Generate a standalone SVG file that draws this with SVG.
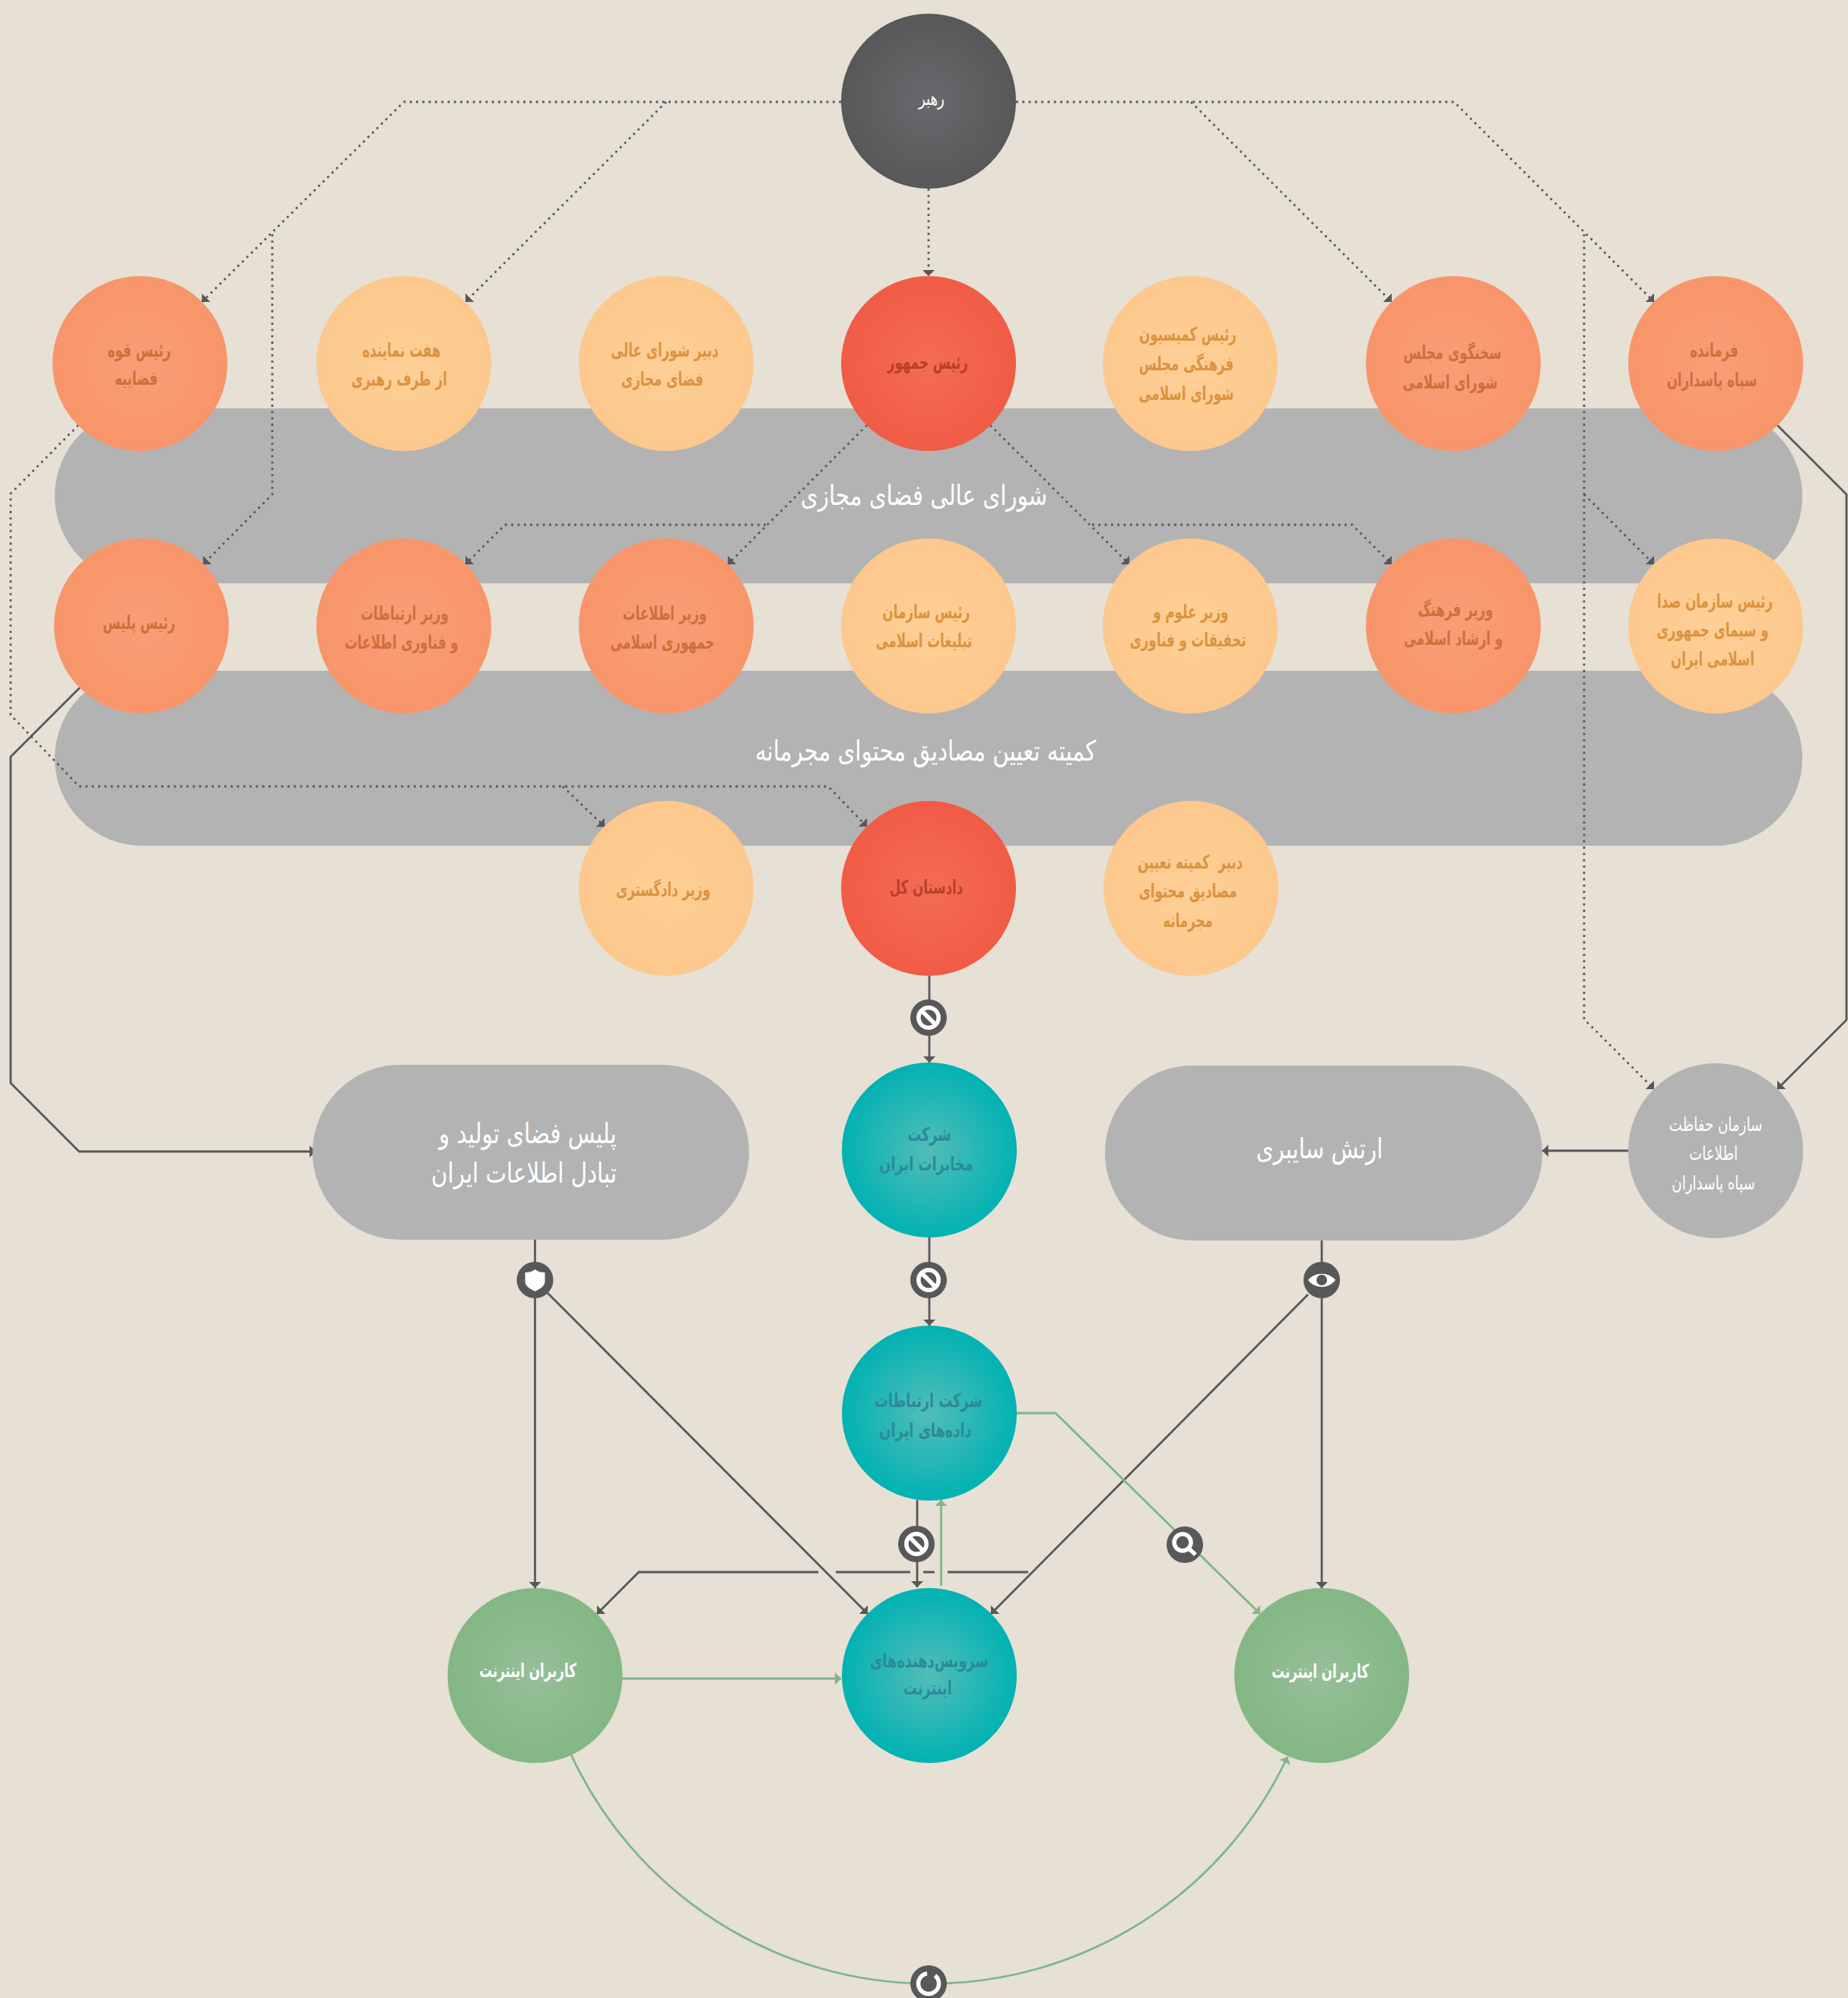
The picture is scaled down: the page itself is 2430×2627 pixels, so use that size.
<svg xmlns="http://www.w3.org/2000/svg" width="2430" height="2627" viewBox="0 0 2430 2627">
<style>
text{font-family:"DejaVu Sans Condensed","DejaVu Sans",sans-serif;text-anchor:middle;direction:rtl;dominant-baseline:central;transform-box:fill-box;transform-origin:center}
.t{font-size:25px;font-weight:700;transform:translateY(-2px) scaleX(.74)}
.lo{fill:#db9340}.sa{fill:#cf6f3c}.re{fill:#b84028}.te{fill:#2c8a98;transform:translateY(-2px) scaleX(.79)}.wh{fill:#fff}
.wl{font-weight:400;transform:translateY(-2px) scaleX(.81)}
.big{font-size:37px;fill:#fff;font-weight:400;transform:translateY(-2px) scaleX(.88)}
.band{fill:#b3b3b3}
.c{fill:none;stroke:#58585a;stroke-width:2.8}
.d{fill:none;stroke:#58585a;stroke-width:2.8;stroke-dasharray:2.8 5.5}
.g{fill:none;stroke:#7fb686;stroke-width:2.8}
.ic{fill:#58585a}
.w{fill:none;stroke:#fff;stroke-width:5.5}
</style>
<defs>
<radialGradient id="gDark"><stop offset="0" stop-color="#68696c"/><stop offset="1" stop-color="#58585a"/></radialGradient>
<radialGradient id="gRed"><stop offset="0" stop-color="#f46c56"/><stop offset="1" stop-color="#f15b46"/></radialGradient>
<radialGradient id="gSal"><stop offset="0" stop-color="#f99e77"/><stop offset="1" stop-color="#f8956a"/></radialGradient>
<radialGradient id="gLo"><stop offset="0" stop-color="#fecf95"/><stop offset="1" stop-color="#fdc88d"/></radialGradient>
<radialGradient id="gTe"><stop offset="0" stop-color="#52bdb8"/><stop offset="1" stop-color="#02b2b3"/></radialGradient>
<radialGradient id="gGr"><stop offset="0" stop-color="#97bf99"/><stop offset="1" stop-color="#83b784"/></radialGradient>
<marker id="ad" markerUnits="userSpaceOnUse" markerWidth="8" markerHeight="16" refX="8" refY="8" orient="auto"><path d="M0 0L8 8L0 16Z" fill="#58585a"/></marker>
<marker id="ag" markerUnits="userSpaceOnUse" markerWidth="8" markerHeight="16" refX="8" refY="8" orient="auto"><path d="M0 0L8 8L0 16Z" fill="#7fb686"/></marker>
<g id="ban"><circle r="24" class="ic"/><circle r="13.2" class="w"/><path d="M-10-10L10 10" class="w"/></g>
</defs>
<rect width="2430" height="2627" fill="#e6e0d5"/>
<g id="band-1"><rect class="band" x="72" y="537" width="2298" height="230" rx="115"/><text class="big" x="1215" y="653">شورای عالی فضای مجازی</text></g>
<g id="band-2"><rect class="band" x="72" y="882" width="2298" height="230" rx="115"/><text class="big" x="1217" y="989">کمیته تعیین مصادیق محتوای مجرمانه</text></g>
<g id="connectors">
<path class="d" d="M1106 134H531L265.500 397" marker-end="url(#ad)"/>
<path class="d" d="M876 134L612 397" marker-end="url(#ad)"/>
<path class="d" d="M1221 248V363" marker-end="url(#ad)"/>
<path class="d" d="M1336 134H1912L2175 397" marker-end="url(#ad)"/>
<path class="d" d="M1566 134L1830 397" marker-end="url(#ad)"/>
<path class="d" d="M358 308V650L267 742" marker-end="url(#ad)"/>
<path class="d" d="M2083 308V1340L2175 1432" marker-end="url(#ad)"/>
<path class="d" d="M2083 650L2175 742" marker-end="url(#ad)"/>
<path class="d" d="M1140 559L957 742" marker-end="url(#ad)"/>
<path class="d" d="M1007 690H664L612 742" marker-end="url(#ad)"/>
<path class="d" d="M1302 559L1485 742" marker-end="url(#ad)"/>
<path class="d" d="M1436 690H1778L1830 742" marker-end="url(#ad)"/>
<path class="d" d="M103 559L14 649V940L104 1034H1089L1140 1087" marker-end="url(#ad)"/>
<path class="d" d="M740 1034L795 1087" marker-end="url(#ad)"/>
<path class="c" d="M2337 559L2428 650V1341L2337 1432" marker-end="url(#ad)"/>
<path class="c" d="M105 904L14 995V1424L104 1514H415" marker-end="url(#ad)"/>
<path class="c" d="M1222 1283V1397" marker-end="url(#ad)"/>
<path class="c" d="M1222 1627V1743" marker-end="url(#ad)"/>
<path class="c" d="M2141 1513H2028" marker-end="url(#ad)"/>
<path class="c" d="M1738 1630V2088" marker-end="url(#ad)"/>
<path class="c" d="M1720 1702L1303 2122" marker-end="url(#ad)"/>
<path class="c" d="M703.500 1630V2088" marker-end="url(#ad)"/>
<path class="c" d="M720 1700L1141 2122" marker-end="url(#ad)"/>
<path class="c" d="M1352 2067H1246M1229 2067H1214M1197 2067H1099M1076 2067H840L785 2122" marker-end="url(#ad)"/>
<path class="c" d="M1206 1972V2087" marker-end="url(#ad)"/>
<path class="g" d="M1237.500 2085V1972" marker-end="url(#ag)"/>
<path class="g" d="M1337 1858H1388L1657 2122" marker-end="url(#ag)"/>
<path class="g" d="M818 2207H1106" marker-end="url(#ag)"/>
<path class="g" d="M750 2305A520 520 0 0 0 1693 2310" marker-end="url(#ag)"/>
</g>
<g id="node-leader"><circle cx="1221" cy="133" r="115" fill="url(#gDark)"/><text class="t wh wl" x="1225" y="131">رهبر</text></g>
<g id="node-judiciary"><circle cx="184" cy="478" r="115" fill="url(#gSal)"/><text class="t sa" x="183" y="462">رئیس قوه</text><text class="t sa" x="179" y="499">قضاییه</text></g>
<g id="node-seven"><circle cx="531" cy="478" r="115" fill="url(#gLo)"/><text class="t lo" x="528" y="462">هفت نماینده</text><text class="t lo" x="525" y="500">از طرف رهبری</text></g>
<g id="node-sec-council"><circle cx="876" cy="478" r="115" fill="url(#gLo)"/><text class="t lo" x="874" y="462">دبیر شورای عالی</text><text class="t lo" x="871" y="500">فضای مجازی</text></g>
<g id="node-president"><circle cx="1221" cy="478" r="115" fill="url(#gRed)"/><text class="t re" x="1220" y="478">رئیس جمهور</text></g>
<g id="node-commission"><circle cx="1565" cy="478" r="115" fill="url(#gLo)"/><text class="t lo" x="1562" y="441">رئیس کمیسیون</text><text class="t lo" x="1560" y="480">فرهنگی مجلس</text><text class="t lo" x="1560" y="519">شورای اسلامی</text></g>
<g id="node-speaker"><circle cx="1911" cy="478" r="115" fill="url(#gSal)"/><text class="t sa" x="1910" y="465">سخنگوی مجلس</text><text class="t sa" x="1907" y="504">شورای اسلامی</text></g>
<g id="node-irgc"><circle cx="2256" cy="478" r="115" fill="url(#gSal)"/><text class="t sa" x="2254" y="462">فرمانده</text><text class="t sa" x="2251" y="501">سپاه پاسداران</text></g>
<g id="node-police"><circle cx="186" cy="823" r="115" fill="url(#gSal)"/><text class="t sa" x="183" y="820">رئیس پلیس</text></g>
<g id="node-ict"><circle cx="531" cy="823" r="115" fill="url(#gSal)"/><text class="t sa" x="532" y="808">وزیر ارتباطات</text><text class="t sa" x="528" y="846">و فناوری اطلاعات</text></g>
<g id="node-intel"><circle cx="876" cy="823" r="115" fill="url(#gSal)"/><text class="t sa" x="874" y="808">وزیر اطلاعات</text><text class="t sa" x="871" y="846">جمهوری اسلامی</text></g>
<g id="node-propaganda"><circle cx="1221" cy="823" r="115" fill="url(#gLo)"/><text class="t lo" x="1218" y="806">رئیس سازمان</text><text class="t lo" x="1215" y="844">تبلیغات اسلامی</text></g>
<g id="node-science"><circle cx="1565" cy="823" r="115" fill="url(#gLo)"/><text class="t lo" x="1566" y="806">وزیر علوم و</text><text class="t lo" x="1562" y="843">تحقیقات و فناوری</text></g>
<g id="node-culture"><circle cx="1911" cy="823" r="115" fill="url(#gSal)"/><text class="t sa" x="1914" y="803">وزیر فرهنگ</text><text class="t sa" x="1911" y="841">و ارشاد اسلامی</text></g>
<g id="node-irib"><circle cx="2256" cy="823" r="115" fill="url(#gLo)"/><text class="t lo" x="2255" y="792">رئیس سازمان صدا</text><text class="t lo" x="2252" y="830">و سیمای جمهوری</text><text class="t lo" x="2252" y="868">اسلامی ایران</text></g>
<g id="node-justice"><circle cx="876" cy="1168" r="115" fill="url(#gLo)"/><text class="t lo" x="872" y="1171">وزیر دادگستری</text></g>
<g id="node-prosecutor"><circle cx="1221" cy="1168" r="115" fill="url(#gRed)"/><text class="t re" x="1218" y="1168">دادستان کل</text></g>
<g id="node-sec-committee"><circle cx="1566" cy="1168" r="115" fill="url(#gLo)"/><text class="t lo" x="1565" y="1135" xml:space="preserve">دبیر  کمیته تعیین</text><text class="t lo" x="1562" y="1173">مصادیق محتوای</text><text class="t lo" x="1562" y="1212">مجرمانه</text></g>
<g id="node-fata"><rect class="band" x="411" y="1400" width="574" height="230" rx="115"/><text class="big" x="694" y="1492">پلیس فضای تولید و</text><text class="big" x="689" y="1544">تبادل اطلاعات ایران</text></g>
<g id="node-tci"><circle cx="1222" cy="1512" r="115" fill="url(#gTe)"/><text class="t te" x="1222" y="1493">شرکت</text><text class="t te" x="1218" y="1532">مخابرات ایران</text></g>
<g id="node-cyberarmy"><rect class="band" x="1453" y="1401" width="575" height="230" rx="115"/><text class="big" x="1735" y="1512">ارتش سایبری</text></g>
<g id="node-irgc-intel"><circle cx="2256" cy="1513" r="115" fill="#b3b3b3"/><text class="t wh wl" x="2256" y="1480">سازمان حفاظت</text><text class="t wh wl" x="2253" y="1518">اطلاعات</text><text class="t wh wl" x="2253" y="1557">سپاه پاسداران</text></g>
<g id="node-tic"><circle cx="1222" cy="1858" r="115" fill="url(#gTe)"/><text class="t te" x="1221" y="1843">شرکت ارتباطات</text><text class="t te" x="1217" y="1882">داده‌های ایران</text></g>
<g id="node-users-left"><circle cx="703.500" cy="2203" r="115" fill="url(#gGr)"/><text class="t wh" x="694" y="2198">کاربران اینترنت</text></g>
<g id="node-isp"><circle cx="1222" cy="2203" r="115" fill="url(#gTe)"/><text class="t te" x="1222" y="2185">سرویس‌دهنده‌های</text><text class="t te" x="1220" y="2221">اینترنت</text></g>
<g id="node-users-right"><circle cx="1738" cy="2203" r="115" fill="url(#gGr)"/><text class="t wh" x="1736" y="2199">کاربران اینترنت</text></g>
<g id="icons">
<use href="#ban" x="1221" y="1338"/>
<use href="#ban" x="1221" y="1683"/>
<use href="#ban" x="1205" y="2030"/>
<g transform="translate(703.500 1683)"><circle r="24" class="ic"/><path d="M0-14C4-11 8-10 13-10V2C13 8 6 12 0 15C-6 12-13 8-13 2V-10C-8-10-4-11 0-14Z" fill="#fff"/></g>
<g transform="translate(1738 1683)"><circle r="24" class="ic"/><path d="M-18 0C-9-11 9-11 18 0C9 12-9 12-18 0Z" fill="#fff"/><circle r="7" class="ic"/></g>
<g transform="translate(1558 2031)"><circle r="24" class="ic"/><circle cx="-3" cy="-3" r="11" class="w"/><path d="M5 5L14 13" class="w"/></g>
<g transform="translate(1221 2608)"><circle r="24" class="ic"/><path d="M8.500-10.500A13.500 13.500 0 1 1 -2-13.300" class="w"/></g>
</g>
</svg>
